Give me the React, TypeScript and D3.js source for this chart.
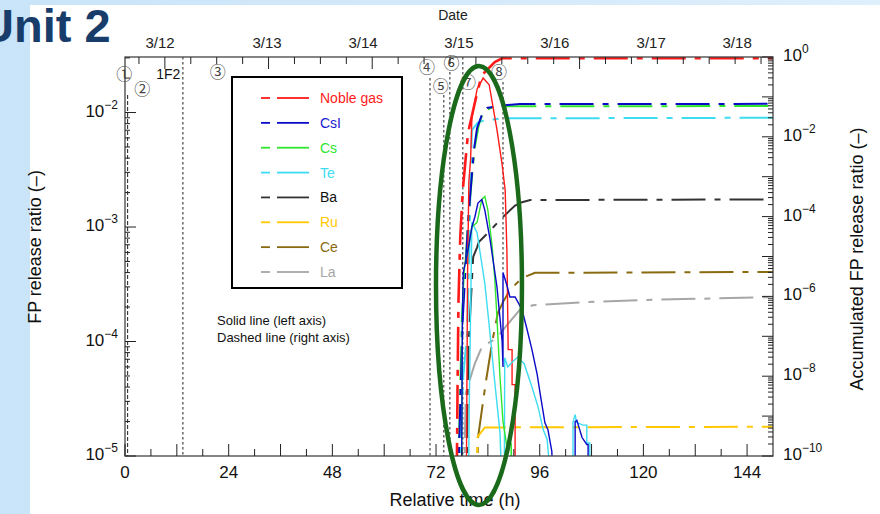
import React from 'react';
import * as d3 from 'd3';

type Pt = [number, number];

// ---- data ----
const hourTicks = [0, 24, 48, 72, 96, 120, 144];
const dateLabels = ['3/12', '3/13', '3/14', '3/15', '3/16', '3/17', '3/18'];
const dateLabelHours = [8.1, 32.9, 55.1, 77.3, 99.5, 121.8, 141.7];
const firstClockTick = 3.23; // 3/11 18:00 in relative hours
const midnight312 = 9.23;

const eventLabels = ['①', '②', '1F2', '③', '④', '⑤', '⑥', '⑦', '⑧'];
const eventLabelHours = [-0.2, 4.0, 10.0, 21.5, 69.9, 73.1, 75.6, 79.4, 86.6];
const eventLineHours = [0.6, 13.4, 70.6, 73.8, 75.2, 78.2, 87.5];

// release ratio (left axis, solid)
const nobleRate: Pt[] = [[79.0, 5e-6], [79.3, 4e-4], [79.6, 2.5e-3], [80.0, 3.9e-3], [80.3, 9e-3], [81.5, 1.6e-2], [82.9, 2.0e-2], [84.3, 1.75e-2], [86.1, 7.1e-3], [87.3, 3.5e-3], [88.0, 2.1e-3], [88.4, 6.3e-4], [88.7, 8.5e-5], [89.6, 8.5e-5], [89.6, 4.2e-5], [90.3, 4.2e-5], [90.3, 5e-6]];
const csiRate: Pt[] = [[77.9, 5e-6], [78.1, 1.6e-4], [78.3, 4e-4], [79.3, 6e-4], [80.3, 1.0e-3], [81.0, 1.23e-3], [81.7, 1.62e-3], [82.6, 1.74e-3], [83.3, 1.4e-3], [84.5, 7.8e-4], [86.1, 3.0e-4], [86.8, 1.6e-4], [87.3, 1.0e-4], [87.5, 6e-5], [87.5, 4e-4], [88.4, 3.1e-4], [89.1, 2.45e-4], [90.3, 2.45e-4], [91.9, 1.9e-4], [93.1, 1.26e-4], [94.2, 8.5e-5], [95.4, 5.2e-5], [96.1, 3.5e-5], [97.2, 1.95e-5], [97.9, 1.7e-5], [98.8, 1.1e-5], [99.1, 5e-6], [104.2, 5e-6], [104.2, 2.0e-5], [104.6, 2.05e-5], [105.8, 1.45e-5], [106.9, 1.26e-5], [107.2, 1.26e-5], [107.2, 5e-6]];
const csRate: Pt[] = [[77.9, 5e-6], [78.1, 2e-4], [78.6, 4.5e-4], [79.4, 6.3e-4], [80.3, 1.0e-3], [81.5, 1.1e-3], [82.6, 1.74e-3], [83.3, 1.85e-3], [84.0, 1.4e-3], [85.0, 6.7e-4], [85.6, 3.5e-4], [86.0, 1.9e-4], [86.8, 4.9e-5], [87.5, 2e-5], [88.4, 1.2e-5], [88.8, 5e-6], [89.3, 5e-6], [89.4, 1.3e-5], [89.6, 5e-6]];
const teRate: Pt[] = [[79.5, 5e-6], [79.7, 3e-5], [80.3, 1.1e-3], [81.5, 8.9e-4], [83.3, 3.2e-4], [84.5, 1.17e-4], [85.6, 4.4e-5], [86.8, 1.6e-5], [87.3, 5e-6], [87.8, 5e-6], [87.9, 7.2e-5], [88.6, 6e-5], [89.6, 6.6e-5], [90.9, 7.3e-5], [92.4, 6.4e-5], [94.2, 4e-5], [95.6, 2.7e-5], [96.8, 1.7e-5], [97.7, 1.4e-5], [98.8, 5e-6], [103.7, 5e-6], [103.7, 1.97e-5], [104.2, 2.3e-5], [104.5, 1.97e-5], [106.0, 1.86e-5], [106.9, 1.86e-5], [106.9, 1.3e-5], [107.6, 1.3e-5], [107.6, 5e-6]];

// accumulated release ratio (right axis, dashed)
const nobleAcc: Pt[] = [[76.8, 3e-11], [77.0, 1e-8], [77.2, 8e-7], [77.6, 3e-5], [78.2, 4.7e-4], [79.4, 1.25e-2], [81.5, 0.125], [82.6, 0.35], [85.6, 0.75], [87.3, 0.93], [150, 0.93]];
const csiAcc: Pt[] = [[77.0, 1e-11], [78.2, 3e-7], [79.5, 1e-4], [80.8, 5e-3], [81.5, 0.0167], [82.6, 0.035], [83.8, 0.053], [85.6, 0.057], [88.0, 0.062], [91.4, 0.066], [150, 0.067]];
const csAcc: Pt[] = [[77.0, 1e-11], [78.0, 3e-7], [79.5, 1e-4], [80.9, 5e-3], [81.9, 0.02], [82.9, 0.042], [85.0, 0.055], [88.0, 0.058], [150, 0.059]];
const teAcc: Pt[] = [[77.2, 1e-11], [78.3, 1e-8], [79.2, 1.2e-7], [79.7, 1.5e-5], [80.0, 1e-3], [80.3, 0.0147], [81.7, 0.023], [83.3, 0.026], [87.3, 0.029], [150, 0.03]];
const baAcc: Pt[] = [[79.1, 1e-11], [79.2, 2.5e-10], [79.3, 3.8e-9], [79.4, 9.5e-9], [79.5, 5.4e-8], [80.6, 9.8e-6], [81.5, 1.7e-5], [81.9, 2.3e-5], [84.0, 3.9e-5], [87.5, 9.8e-5], [90.3, 1.9e-4], [91.9, 2.3e-4], [93.8, 2.6e-4], [150, 2.7e-4]];
const ruAcc: Pt[] = [[81.3, 1e-11], [81.6, 3e-10], [83.3, 5.2e-10], [150, 5.4e-10]];
const ceAcc: Pt[] = [[81.5, 1e-11], [81.7, 2.8e-10], [82.6, 1.4e-9], [83.6, 8e-9], [85.0, 7.2e-8], [86.3, 3.8e-7], [87.5, 7.2e-7], [89.1, 1.45e-6], [91.9, 2.9e-6], [94.9, 3.9e-6], [150, 4.1e-6]];
const laAcc: Pt[] = [[78.5, 1e-11], [78.7, 3.8e-10], [78.9, 3.8e-9], [80.3, 1.2e-8], [81.0, 2.1e-8], [82.6, 5.4e-8], [86.1, 9.1e-8], [88.4, 1.9e-7], [91.4, 4.6e-7], [94.4, 6e-7], [106.9, 7.2e-7], [119.2, 8.1e-7], [150, 9.6e-7]];

const species = ['Noble gas', 'CsI', 'Cs', 'Te', 'Ba', 'Ru', 'Ce', 'La'];
const speciesColors = ['#ff1a1a', '#0a0ac8', '#2ee62e', '#3ddcf0', '#333333', '#ffc800', '#8a6a10', '#a6a6a6'];
const speciesText = ['#ff1a1a', '#1a1ad0', '#2ee62e', '#3ddcf0', '#111111', '#ffc800', '#8a6a10', '#a6a6a6'];

const rateSeries: [string, Pt[]][] = [['Noble gas', nobleRate], ['Te', teRate], ['Cs', csRate], ['CsI', csiRate]];
const accSeries: [string, Pt[]][] = [['La', laAcc], ['Ce', ceAcc], ['Ru', ruAcc], ['Ba', baAcc], ['Te', teAcc], ['Cs', csAcc], ['CsI', csiAcc], ['Noble gas', nobleAcc]];

// ---- layout ----
const W = 880, H = 514;
const L = 125, R = 773, T = 57, B = 456;
const font = 'Liberation Sans, Arial, sans-serif';
const eventLabelY = [74, 89, 73, 72, 67, 86, 63, 82, 72];
const eventLineTop = [95, 57, 78, 95, 72, 57, 82];
const eventLineBottom = [B, B, B, B, B, B, 270];
const DASH = '34,9,6,9';

const App = () => {
    const x = d3.scaleLinear().domain([0, 150]).range([L, R]);
    const yL = d3.scaleLog().domain([1e-5, Math.pow(10, -1.515)]).range([B, T]);
    const yR = d3.scaleLog().domain([1e-10, 1]).range([B, T]);

    const lineL = d3.line<Pt>().x(d => x(d[0])).y(d => yL(d[1]));
    const lineR = d3.line<Pt>().x(d => x(d[0])).y(d => yR(d[1]));
    const colorOf = (name: string) => speciesColors[species.indexOf(name)];

    // log ticks
    const leftTicks: { v: number, major: boolean }[] = [];
    for (let e = -5; e <= -2; e++) {
        for (let k = 1; k <= 9; k++) {
            const v = k * Math.pow(10, e);
            if (v <= yL.domain()[1] * 1.0001) leftTicks.push({ v, major: k === 1 });
        }
    }
    const rightTicks: { v: number, major: boolean }[] = [];
    for (let e = -10; e <= 0; e++) {
        for (let k = 1; k <= 9; k++) {
            const v = k * Math.pow(10, e);
            if (v <= 1.0001) rightTicks.push({ v, major: k === 1 });
        }
    }
    const clockTicks = d3.range(firstClockTick, 150, 6);
    const hourMinor = d3.range(0, 150, 6);

    // annotation ellipse (in data units)
    const ellT = 81.94, ellRxH = 9.95;
    const ellTop = yL(Math.pow(10, -1.594)), ellBot = yL(Math.pow(10, -5.428));

    const legendY = d3.scaleLinear().domain([0, 7]).range([98, 272]);

    return (
        <svg width={W} height={H} style={{ position: 'absolute', left: 0, top: 0, display: 'block' }} fontFamily={font}>
            <defs>
                <clipPath id="plot"><rect x={L} y={T - 2} width={R - L} height={B - T + 2} /></clipPath>
                <linearGradient id="side" x1="0" x2="1" y1="0" y2="0">
                    <stop offset="0%" stopColor="#c9e4f8" />
                    <stop offset="100%" stopColor="#dfeffc" />
                </linearGradient>
            </defs>
            <rect width={W} height={H} fill="url(#side)" />
            <rect x={30} y={5} width={W - 30} height={H - 5} fill="#ffffff" />

            <text x={-20} y={42} fontSize={47} fontWeight="bold" fill="#183d6b">Unit 2</text>
            <text x={453} y={20} fontSize={14} textAnchor="middle" fill="#222">Date</text>

            {/* date labels */}
            {dateLabels.map((d, i) => (
                <text key={d} x={x(dateLabelHours[i])} y={48} fontSize={15} textAnchor="middle" fill="#222">{d}</text>
            ))}

            {/* event lines */}
            {eventLineHours.map((t, i) => (
                <line key={'ev' + i} x1={x(t)} x2={x(t)} y1={eventLineTop[i]} y2={eventLineBottom[i]}
                    stroke="#333" strokeWidth={1.1} strokeDasharray={i === 0 ? '4,2' : '2.5,2.5'} />
            ))}
            {eventLabels.map((s, i) => (
                <text key={'el' + i} x={x(eventLabelHours[i])} y={eventLabelY[i] + 6} fontSize={s === '1F2' ? 14 : 16}
                    textAnchor="middle" fill={s === '1F2' ? '#111' : '#444'}
                    fontFamily={s === '1F2' ? font : 'Noto Sans CJK JP, DejaVu Sans, sans-serif'}>{s}</text>
            ))}

            {/* legend */}
            <rect x={232} y={77} width={170} height={211} fill="#fff" stroke="#000" strokeWidth={2} />
            {species.map((s, i) => (
                <g key={s} transform={`translate(0,${legendY(i)})`}>
                    <line x1={261} x2={270} y1={0} y2={0} stroke={speciesColors[i]} strokeWidth={1.8} />
                    <line x1={277} x2={309} y1={0} y2={0} stroke={speciesColors[i]} strokeWidth={1.8} />
                    <text x={320} y={5} fontSize={14} fill={speciesText[i]}>{s}</text>
                </g>
            ))}
            <text x={217} y={325} fontSize={13} fill="#111">Solid line (left axis)</text>
            <text x={217} y={342} fontSize={13} fill="#111">Dashed line (right axis)</text>

            {/* data */}
            <g clipPath="url(#plot)">
                {accSeries.map(([name, data]) => (
                    <path key={'a' + name} d={lineR(data) || ''} fill="none" stroke={colorOf(name)} strokeWidth={name === 'Noble gas' ? 2.6 : 2} strokeDasharray={DASH} />
                ))}
                {rateSeries.map(([name, data]) => (
                    <path key={'r' + name} d={lineL(data) || ''} fill="none" stroke={colorOf(name)} strokeWidth={1.4} />
                ))}
            </g>

            {/* frame */}
            <rect x={L} y={T} width={R - L} height={B - T} fill="none" stroke="#444" strokeWidth={1.3} />

            {/* bottom axis */}
            {hourMinor.map(t => (
                <line key={'b' + t} x1={x(t)} x2={x(t)} y1={B} y2={B - (t % 12 === 0 ? 12 : 7)} stroke="#222" strokeWidth={1} />
            ))}
            {hourTicks.map(t => (
                <text key={'bl' + t} x={x(t)} y={478} fontSize={17} textAnchor="middle" fill="#111">{t}</text>
            ))}
            {/* top axis */}
            {clockTicks.map(t => (
                <line key={'t' + t} x1={x(t)} x2={x(t)} y1={T} y2={T + (Math.abs(((t - midnight312) % 24 + 24) % 24) < 0.01 ? 12 : 7)} stroke="#222" strokeWidth={1} />
            ))}

            {/* left axis */}
            {leftTicks.map((d, i) => (
                <line key={'lt' + i} x1={L} x2={L + (d.major ? 11 : 5)} y1={yL(d.v)} y2={yL(d.v)} stroke="#222" strokeWidth={1} />
            ))}
            {[-5, -4, -3, -2].map(e => (
                <text key={'ll' + e} x={118} y={yL(Math.pow(10, e)) + 4} fontSize={17} textAnchor="end" fill="#111">10
                    <tspan dy={-8} fontSize={12}>{'\u2212' + Math.abs(e)}</tspan>
                </text>
            ))}
            {/* right axis */}
            {rightTicks.map((d, i) => (
                <line key={'rt' + i} x1={R} x2={R - (d.major ? 11 : 5)} y1={yR(d.v)} y2={yR(d.v)} stroke="#222" strokeWidth={1} />
            ))}
            {[0, -2, -4, -6, -8, -10].map(e => (
                <text key={'rl' + e} x={783} y={yR(Math.pow(10, e)) + 4} fontSize={17} fill="#111">10
                    <tspan dy={-8} fontSize={12}>{e === 0 ? '0' : '\u2212' + Math.abs(e)}</tspan>
                </text>
            ))}

            {/* axis titles */}
            <text transform="translate(41,247) rotate(-90)" fontSize={18} textAnchor="middle" fill="#111">FP release ratio (–)</text>
            <text transform="translate(863,259) rotate(-90)" fontSize={18} textAnchor="middle" fill="#111">Accumulated FP release ratio (–)</text>
            <text x={455} y={506} fontSize={18} textAnchor="middle" fill="#111">Relative time (h)</text>

            {/* highlight ellipse */}
            <ellipse cx={x(ellT)} cy={(ellTop + ellBot) / 2} rx={x(ellT + ellRxH) - x(ellT)} ry={(ellBot - ellTop) / 2}
                fill="none" stroke="#1b6a1b" strokeWidth={4.5} />
        </svg>
    );
};

export default App;
